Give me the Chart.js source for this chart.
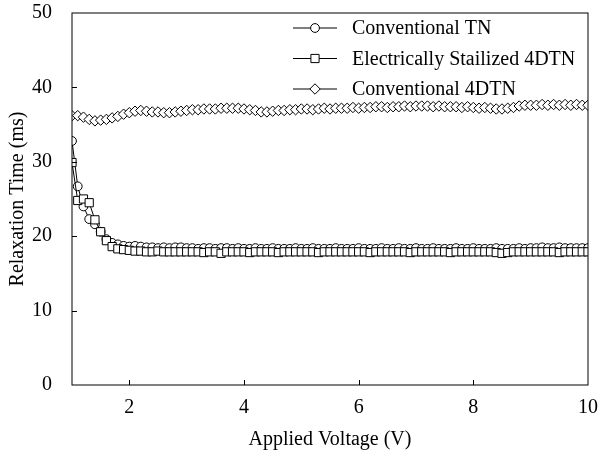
<!DOCTYPE html>
<html>
<head>
<meta charset="utf-8">
<script src="https://cdn.jsdelivr.net/npm/chart.js@4"></script>
<style>
  html, body { margin: 0; padding: 0; background: #fff; }
  #relaxChart { display: block; }
</style>
</head>
<body>
<canvas id="relaxChart" width="600" height="454"></canvas>
<script>
// 印加電圧 (V)
const voltages = [
  1.0, 1.1, 1.2, 1.3, 1.4, 1.5, 1.6, 1.7, 1.8, 1.9,
  2.0, 2.1, 2.2, 2.3, 2.4, 2.5, 2.6, 2.7, 2.8, 2.9,
  3.0, 3.1, 3.2, 3.3, 3.4, 3.5, 3.6, 3.7, 3.8, 3.9,
  4.0, 4.1, 4.2, 4.3, 4.4, 4.5, 4.6, 4.7, 4.8, 4.9,
  5.0, 5.1, 5.2, 5.3, 5.4, 5.5, 5.6, 5.7, 5.8, 5.9,
  6.0, 6.1, 6.2, 6.3, 6.4, 6.5, 6.6, 6.7, 6.8, 6.9,
  7.0, 7.1, 7.2, 7.3, 7.4, 7.5, 7.6, 7.7, 7.8, 7.9,
  8.0, 8.1, 8.2, 8.3, 8.4, 8.5, 8.6, 8.7, 8.8, 8.9,
  9.0, 9.1, 9.2, 9.3, 9.4, 9.5, 9.6, 9.7, 9.8, 9.9,
  10.0
];

// 緩和時間 (ms)
const conventionalTN = [
  32.8, 26.7, 24.0, 22.3, 21.6, 20.6, 19.6, 19.1, 18.9, 18.7,
  18.6, 18.7, 18.6, 18.5, 18.5, 18.4, 18.5, 18.4, 18.5, 18.5,
  18.4, 18.4, 18.3, 18.4, 18.4, 18.3, 18.4, 18.4, 18.3, 18.4,
  18.3, 18.3, 18.4, 18.3, 18.3, 18.4, 18.3, 18.3, 18.3, 18.4,
  18.3, 18.3, 18.4, 18.3, 18.3, 18.3, 18.4, 18.3, 18.3, 18.3,
  18.4, 18.3, 18.3, 18.3, 18.4, 18.3, 18.3, 18.4, 18.3, 18.3,
  18.4, 18.3, 18.3, 18.4, 18.3, 18.3, 18.3, 18.4, 18.3, 18.3,
  18.4, 18.3, 18.3, 18.3, 18.4, 18.3, 18.3, 18.3, 18.4, 18.3,
  18.4, 18.4, 18.5, 18.4, 18.4, 18.5, 18.4, 18.4, 18.4, 18.4,
  18.4
];

const stabilized4DTN = [
  29.9, 24.8, 25.0, 24.5, 22.2, 20.6, 19.4, 18.6, 18.3, 18.2,
  18.1, 18.0, 18.0, 17.9, 17.9, 18.0, 17.9, 17.9, 17.9, 17.9,
  17.9, 17.9, 17.9, 17.8, 17.9, 17.9, 17.7, 17.9, 17.9, 17.9,
  17.9, 17.8, 17.9, 17.9, 17.9, 17.9, 17.8, 17.9, 17.9, 17.9,
  17.9, 17.9, 17.9, 17.8, 17.9, 17.9, 17.9, 17.9, 17.9, 17.9,
  17.9, 17.9, 17.8, 17.9, 17.9, 17.9, 17.9, 17.9, 17.9, 17.8,
  17.9, 17.9, 17.9, 17.9, 17.9, 17.9, 17.8, 17.9, 17.9, 17.9,
  17.9, 17.9, 17.9, 17.9, 17.8, 17.7, 17.8, 17.9, 17.9, 17.9,
  17.9, 17.9, 17.9, 17.9, 17.9, 17.8, 17.9, 17.9, 17.9, 17.9,
  17.9
];

const conventional4DTN = [
  36.2, 36.2, 36.0, 35.7, 35.5, 35.6, 35.7, 35.9, 36.1, 36.4,
  36.6, 36.8, 36.9, 36.8, 36.7, 36.7, 36.6, 36.6, 36.7, 36.8,
  36.9, 37.0, 37.0, 37.1, 37.1, 37.1, 37.2, 37.2, 37.2, 37.2,
  37.1, 37.0, 36.9, 36.7, 36.7, 36.8, 36.9, 36.9, 37.0, 37.0,
  37.1, 37.1, 37.0, 37.1, 37.2, 37.1, 37.2, 37.2, 37.2, 37.3,
  37.2, 37.3, 37.3, 37.4, 37.4, 37.3, 37.4, 37.4, 37.5, 37.4,
  37.5, 37.5, 37.5, 37.4, 37.5, 37.4, 37.4, 37.4, 37.3, 37.4,
  37.3, 37.2, 37.3, 37.2, 37.1, 37.1, 37.2, 37.3, 37.5, 37.6,
  37.6, 37.6, 37.7, 37.6, 37.7, 37.6, 37.7, 37.6, 37.7, 37.6,
  37.6
];

const seriesNames = ["Conventional TN", "Electrically Stailized 4DTN", "Conventional 4DTN"];
const xTicks = [2, 4, 6, 8, 10];
const yTicks = [0, 10, 20, 30, 40, 50];

const serif = "'Liberation Serif', 'Times New Roman', serif";

// {x, y} の配列を作る
function toPoints(values) {
  return values.map(function (v, i) {
    return { x: voltages[i], y: v };
  });
}

// 各系列のマーカー設定
const markerStyles = [
  { pointStyle: "circle", radius: 4.4 },
  { pointStyle: "rect", radius: 5.8 },
  { pointStyle: "rectRot", radius: 5.2 },
];

// 枠線・内向きの目盛り・凡例を描くプラグイン
const framePlugin = {
  id: "frame",
  afterDraw(chart) {
    const ctx = chart.ctx;
    const area = chart.chartArea;
    const xs = chart.scales.x;
    const ys = chart.scales.y;
    ctx.save();
    ctx.strokeStyle = "#000";
    ctx.lineWidth = 1;
    ctx.strokeRect(area.left, area.top, area.right - area.left, area.bottom - area.top);

    // 目盛り（内向き）
    ctx.beginPath();
    xTicks.forEach(function (v) {
      if (v <= xs.min || v >= xs.max) return;
      const px = Math.round(xs.getPixelForValue(v)) + 0.5;
      ctx.moveTo(px, area.bottom);
      ctx.lineTo(px, area.bottom - 5);
    });
    yTicks.forEach(function (v) {
      if (v <= ys.min || v >= ys.max) return;
      const py = Math.round(ys.getPixelForValue(v)) + 0.5;
      ctx.moveTo(area.left, py);
      ctx.lineTo(area.left + 5, py);
    });
    ctx.stroke();

    // 凡例
    const lineX1 = 293;
    const lineX2 = 337;
    const textX = 352;
    const rowY = [28, 58.5, 89];
    ctx.font = "20px " + serif;
    ctx.textBaseline = "middle";
    seriesNames.forEach(function (name, i) {
      const y = rowY[i];
      ctx.strokeStyle = "#000";
      ctx.beginPath();
      ctx.moveTo(lineX1, y);
      ctx.lineTo(lineX2, y);
      ctx.stroke();
      ctx.fillStyle = "#fff";
      Chart.helpers.drawPoint(ctx, {
        pointStyle: markerStyles[i].pointStyle,
        radius: markerStyles[i].radius,
        borderWidth: 1,
        rotation: 0,
      }, (lineX1 + lineX2) / 2, y);
      ctx.fillStyle = "#000";
      ctx.fillText(name, textX, y + 1);
    });
    ctx.restore();
  },
};

const datasetValues = [conventionalTN, stabilized4DTN, conventional4DTN];

const datasets = datasetValues.map(function (values, i) {
  return {
    label: seriesNames[i],
    data: toPoints(values),
    borderColor: "#000",
    borderWidth: 1,
    backgroundColor: "#fff",
    pointStyle: markerStyles[i].pointStyle,
    pointRadius: markerStyles[i].radius,
    pointBorderWidth: 1,
    pointBorderColor: "#000",
    pointBackgroundColor: "#fff",
    tension: 0,
    // 四角を丸より手前に描く
    order: [1, 0, 2][i],
  };
});

new Chart(document.getElementById("relaxChart"), {
  type: "line",
  data: { datasets: datasets },
  plugins: [framePlugin],
  options: {
    responsive: false,
    animation: false,
    layout: { padding: { top: 13, right: 12, left: 0, bottom: 0 } },
    plugins: {
      legend: { display: false },
      tooltip: { enabled: false },
    },
    scales: {
      x: {
        type: "linear",
        min: 1,
        max: 10,
        afterBuildTicks: function (scale) {
          scale.ticks = xTicks.map(function (v) { return { value: v }; });
        },
        afterFit: function (scale) {
          scale.height = 69;
          scale.paddingLeft = 0;
          scale.paddingRight = 0;
        },
        grid: { display: false },
        border: { display: false },
        ticks: {
          color: "#000",
          padding: 3,
          maxRotation: 0,
          font: { family: serif, size: 20 },
        },
        title: {
          display: true,
          text: "Applied Voltage (V)",
          color: "#000",
          font: { family: serif, size: 20 },
          padding: { top: 4, bottom: 2 },
        },
      },
      y: {
        min: 0,
        max: 50,
        afterBuildTicks: function (scale) {
          scale.ticks = yTicks.map(function (v) { return { value: v }; });
        },
        afterFit: function (scale) {
          scale.width = 72;
          scale.paddingTop = 0;
          scale.paddingBottom = 0;
        },
        grid: { display: false },
        border: { display: false },
        ticks: {
          color: "#000",
          padding: 12,
          font: { family: serif, size: 20 },
        },
        title: {
          display: true,
          text: "Relaxation Time (ms)",
          color: "#000",
          font: { family: serif, size: 20 },
          padding: { top: 6, bottom: 4 },
        },
      },
    },
  },
});
</script>
</body>
</html>
